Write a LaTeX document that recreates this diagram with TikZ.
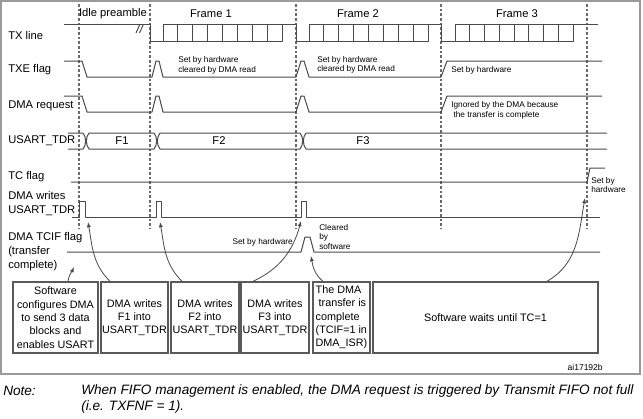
\documentclass[tikz,border=0pt]{standalone}
\usepackage{fontspec}
\setmainfont{Liberation Sans}
\usepackage{tikz}
\usetikzlibrary{arrows.meta}
\definecolor{waveclr}{HTML}{4A4A4A}
\definecolor{guideclr}{HTML}{6A6A6A}
\definecolor{boxclr}{HTML}{5A5A5A}
\definecolor{frameclr}{HTML}{9A9A9A}

\tikzset{
 wavepath/.style={draw=waveclr,line width=0.75pt,line join=round},
 guideline/.style={draw=guideclr,line width=0.9pt,dash pattern=on 2pt off 1.5pt},
 rowlabel/.style={anchor=west,inner sep=0pt,align=left,font=\fontsize{8.4}{10.5}\selectfont},
 framehead/.style={inner sep=0pt,font=\fontsize{8.4}{10.5}\selectfont},
 hint/.style={anchor=west,inner sep=0pt,align=left,font=\fontsize{6.2}{7.2}\selectfont},
 stepbox/.style={draw=boxclr,line width=1pt,inner sep=0.5pt,minimum height=53.25pt,align=center,font=\fontsize{8.1}{10}\selectfont},
 cause/.style={draw=waveclr,line width=0.6pt,-{Latex[length=4pt,width=3pt]}}
}

\begin{document}
\begin{tikzpicture}[x=0.75pt,y=-0.75pt]
 \useasboundingbox (0,0) rectangle (643,418);
 \draw [draw=frameclr,line width=1.4pt] (1,1) rectangle (640,374);

 \foreach \gx in {79,150,296,441,587}
  \draw [guideline] (\gx,4) -- (\gx,229);

 \node [framehead] at (113,14)(idlehd){Idle preamble};
 \node [framehead] at (211,14)(frmonehd){Frame 1};
 \node [framehead] at (358,14)(frmtwohd){Frame 2};
 \node [framehead] at (517,14)(frmthreehd){Frame 3};

 \node [rowlabel] at (8,35)(txlbl){TX line};
 \node [rowlabel] at (8,70)(txelbl){TXE flag};
 \node [rowlabel] at (8,106)(reqlbl){DMA request};
 \node [rowlabel] at (8,141)(tdrlbl){USART\_TDR};
 \node [rowlabel] at (8,177)(tclbl){TC flag};
 \node [rowlabel] at (8,204)(wrlbl){DMA writes\\USART\_TDR};
 \node [rowlabel] at (8,252)(tciflbl){DMA TCIF flag\\(transfer\\complete)};

 \draw [wavepath] (64,24) -- (150,24) -- (150,41) -- (163,41);
 \foreach \k in {0,...,7}
  \draw [wavepath] (163+14.875*\k,24) rectangle ++(14.875,17);
 \draw [wavepath] (282,24) -- (296,24) -- (296,41) -- (309,41);
 \foreach \k in {0,...,7}
  \draw [wavepath] (309+14.875*\k,24) rectangle ++(14.875,17);
 \draw [wavepath] (428,24) -- (441,24) -- (441,41) -- (455,41);
 \foreach \k in {0,...,7}
  \draw [wavepath] (455+14.75*\k,24) rectangle ++(14.75,17);
 \draw [wavepath] (573,24) -- (598,24);
 \draw [wavepath] (136,33) -- (140,24);
 \draw [wavepath] (139.5,33) -- (143.5,24);

 \draw [wavepath] (64,61) -- (82,61) -- (87,77) -- (152,77) -- (156,61) -- (159,61) -- (163,77)
  -- (296,77) -- (301,61) -- (304,61) -- (309,77) -- (441,77) -- (447,61) -- (602,61);
 \draw [wavepath] (64,96) -- (82,96) -- (87,112) -- (152,112) -- (156,96) -- (159,96) -- (163,112)
  -- (296,112) -- (301,96) -- (304,96) -- (309,112) -- (441,112) -- (447,96) -- (602,96);

 \draw [wavepath] (68,133) -- (83,133) .. controls (86.5,137) and (86.5,145) .. (83,149) -- (68,149);
 \draw [wavepath] (89,133) .. controls (85.5,137) and (85.5,145) .. (89,149) -- (154,149)
  .. controls (157.5,145) and (157.5,137) .. (154,133) -- cycle;
 \draw [wavepath] (160,133) .. controls (156.5,137) and (156.5,145) .. (160,149) -- (300,149)
  .. controls (303.5,145) and (303.5,137) .. (300,133) -- cycle;
 \draw [wavepath] (607,133) -- (306,133) .. controls (302.5,137) and (302.5,145) .. (306,149) -- (607,149);
 \node [framehead] at (122,141)(fone){F1};
 \node [framehead] at (219,141)(ftwo){F2};
 \node [framehead] at (363,141)(fthree){F3};

 \draw [wavepath] (71,182) -- (587,182) -- (590,168) -- (605,168);

 \draw [wavepath] (72,217) -- (79,217) -- (79,201) -- (85,201) -- (85,217) -- (156,217) -- (156,201)
  -- (161,201) -- (161,217) -- (301,217) -- (301,201) -- (306,201) -- (306,217) -- (600,217);

 \draw [wavepath] (67,252) -- (301,252) -- (305,237) -- (310,237) -- (314,252) -- (600,252);

 \node [hint] at (178,65.5)(txeone){Set by hardware\\cleared by DMA read};
 \node [hint] at (317,65)(txetwo){Set by hardware\\cleared by DMA read};
 \node [hint] at (451,70)(txethree){Set by hardware};
 \node [hint] at (451,110.5)(reqignore){Ignored by the DMA because\\\ the transfer is complete};
 \node [hint,anchor=east] at (293,242)(tcifset){Set by hardware};
 \node [hint] at (319,237)(tcifclr){Cleared\\by\\software};
 \node [hint] at (591,185)(tcset){Set by\\hardware};

 \node [stepbox,minimum width=63.75pt] at (55.5,317.5)(swcfg){Software\\configures DMA\\to send 3 data\\blocks and\\enables USART};
 \node [stepbox,minimum width=50.25pt] at (134.5,317.5)(wrfone){DMA writes\\F1 into\\USART\_TDR};
 \node [stepbox,minimum width=51pt] at (205,317.5)(wrftwo){DMA writes\\F2 into\\USART\_TDR};
 \node [stepbox,minimum width=51pt] at (275,317.5)(wrfthree){DMA writes\\F3 into\\USART\_TDR};
 \node [stepbox,minimum width=42.75pt,align=left] at (341.5,317.5)(dmadone){The DMA\\\ transfer is\\complete\\(TCIF=1 in\\DMA\_ISR)};
 \node [stepbox,minimum width=168.75pt] at (485.5,317.5)(swwait){Software waits until TC=1};

 \coordinate (hitsw) at (74,267);
 \coordinate (hitone) at (88,222);
 \coordinate (hittwo) at (160,222);
 \coordinate (hitthree) at (301,221);
 \coordinate (hitclr) at (311,256);
 \coordinate (hittc) at (585,198);

 \draw [cause] ([xshift=9.4pt]swcfg.north) to[out=85,in=-115] (hitsw);
 \draw [cause] ([xshift=-18.4pt]wrfone.north) to[out=135,in=-80] (hitone);
 \draw [cause] ([xshift=-17.25pt]wrftwo.north) to[out=135,in=-80] (hittwo);
 \draw [cause] ([xshift=-16.5pt]wrfthree.north) to[out=25,in=-105] (hitthree);
 \draw [cause] ([xshift=-13.9pt]dmadone.north) to[out=140,in=-80] (hitclr);
 \draw [cause] ([xshift=46.1pt]swwait.north) to[out=30,in=-100] (hittc);

 \node [hint,anchor=east,font=\fontsize{6.4}{7.4}\selectfont] at (603,367)(figid){ai17192b};

 \node [anchor=west,inner sep=0pt,font=\fontsize{10.2}{12}\selectfont\itshape] at (3,391)(notehd){Note:};
 \node [anchor=west,inner sep=0pt,align=left,font=\fontsize{10.2}{12}\selectfont\itshape] at (81,399)(notetxt){When FIFO management is enabled, the DMA request is triggered by Transmit FIFO not full\\(i.e. TXFNF = 1).};
\end{tikzpicture}
\end{document}
